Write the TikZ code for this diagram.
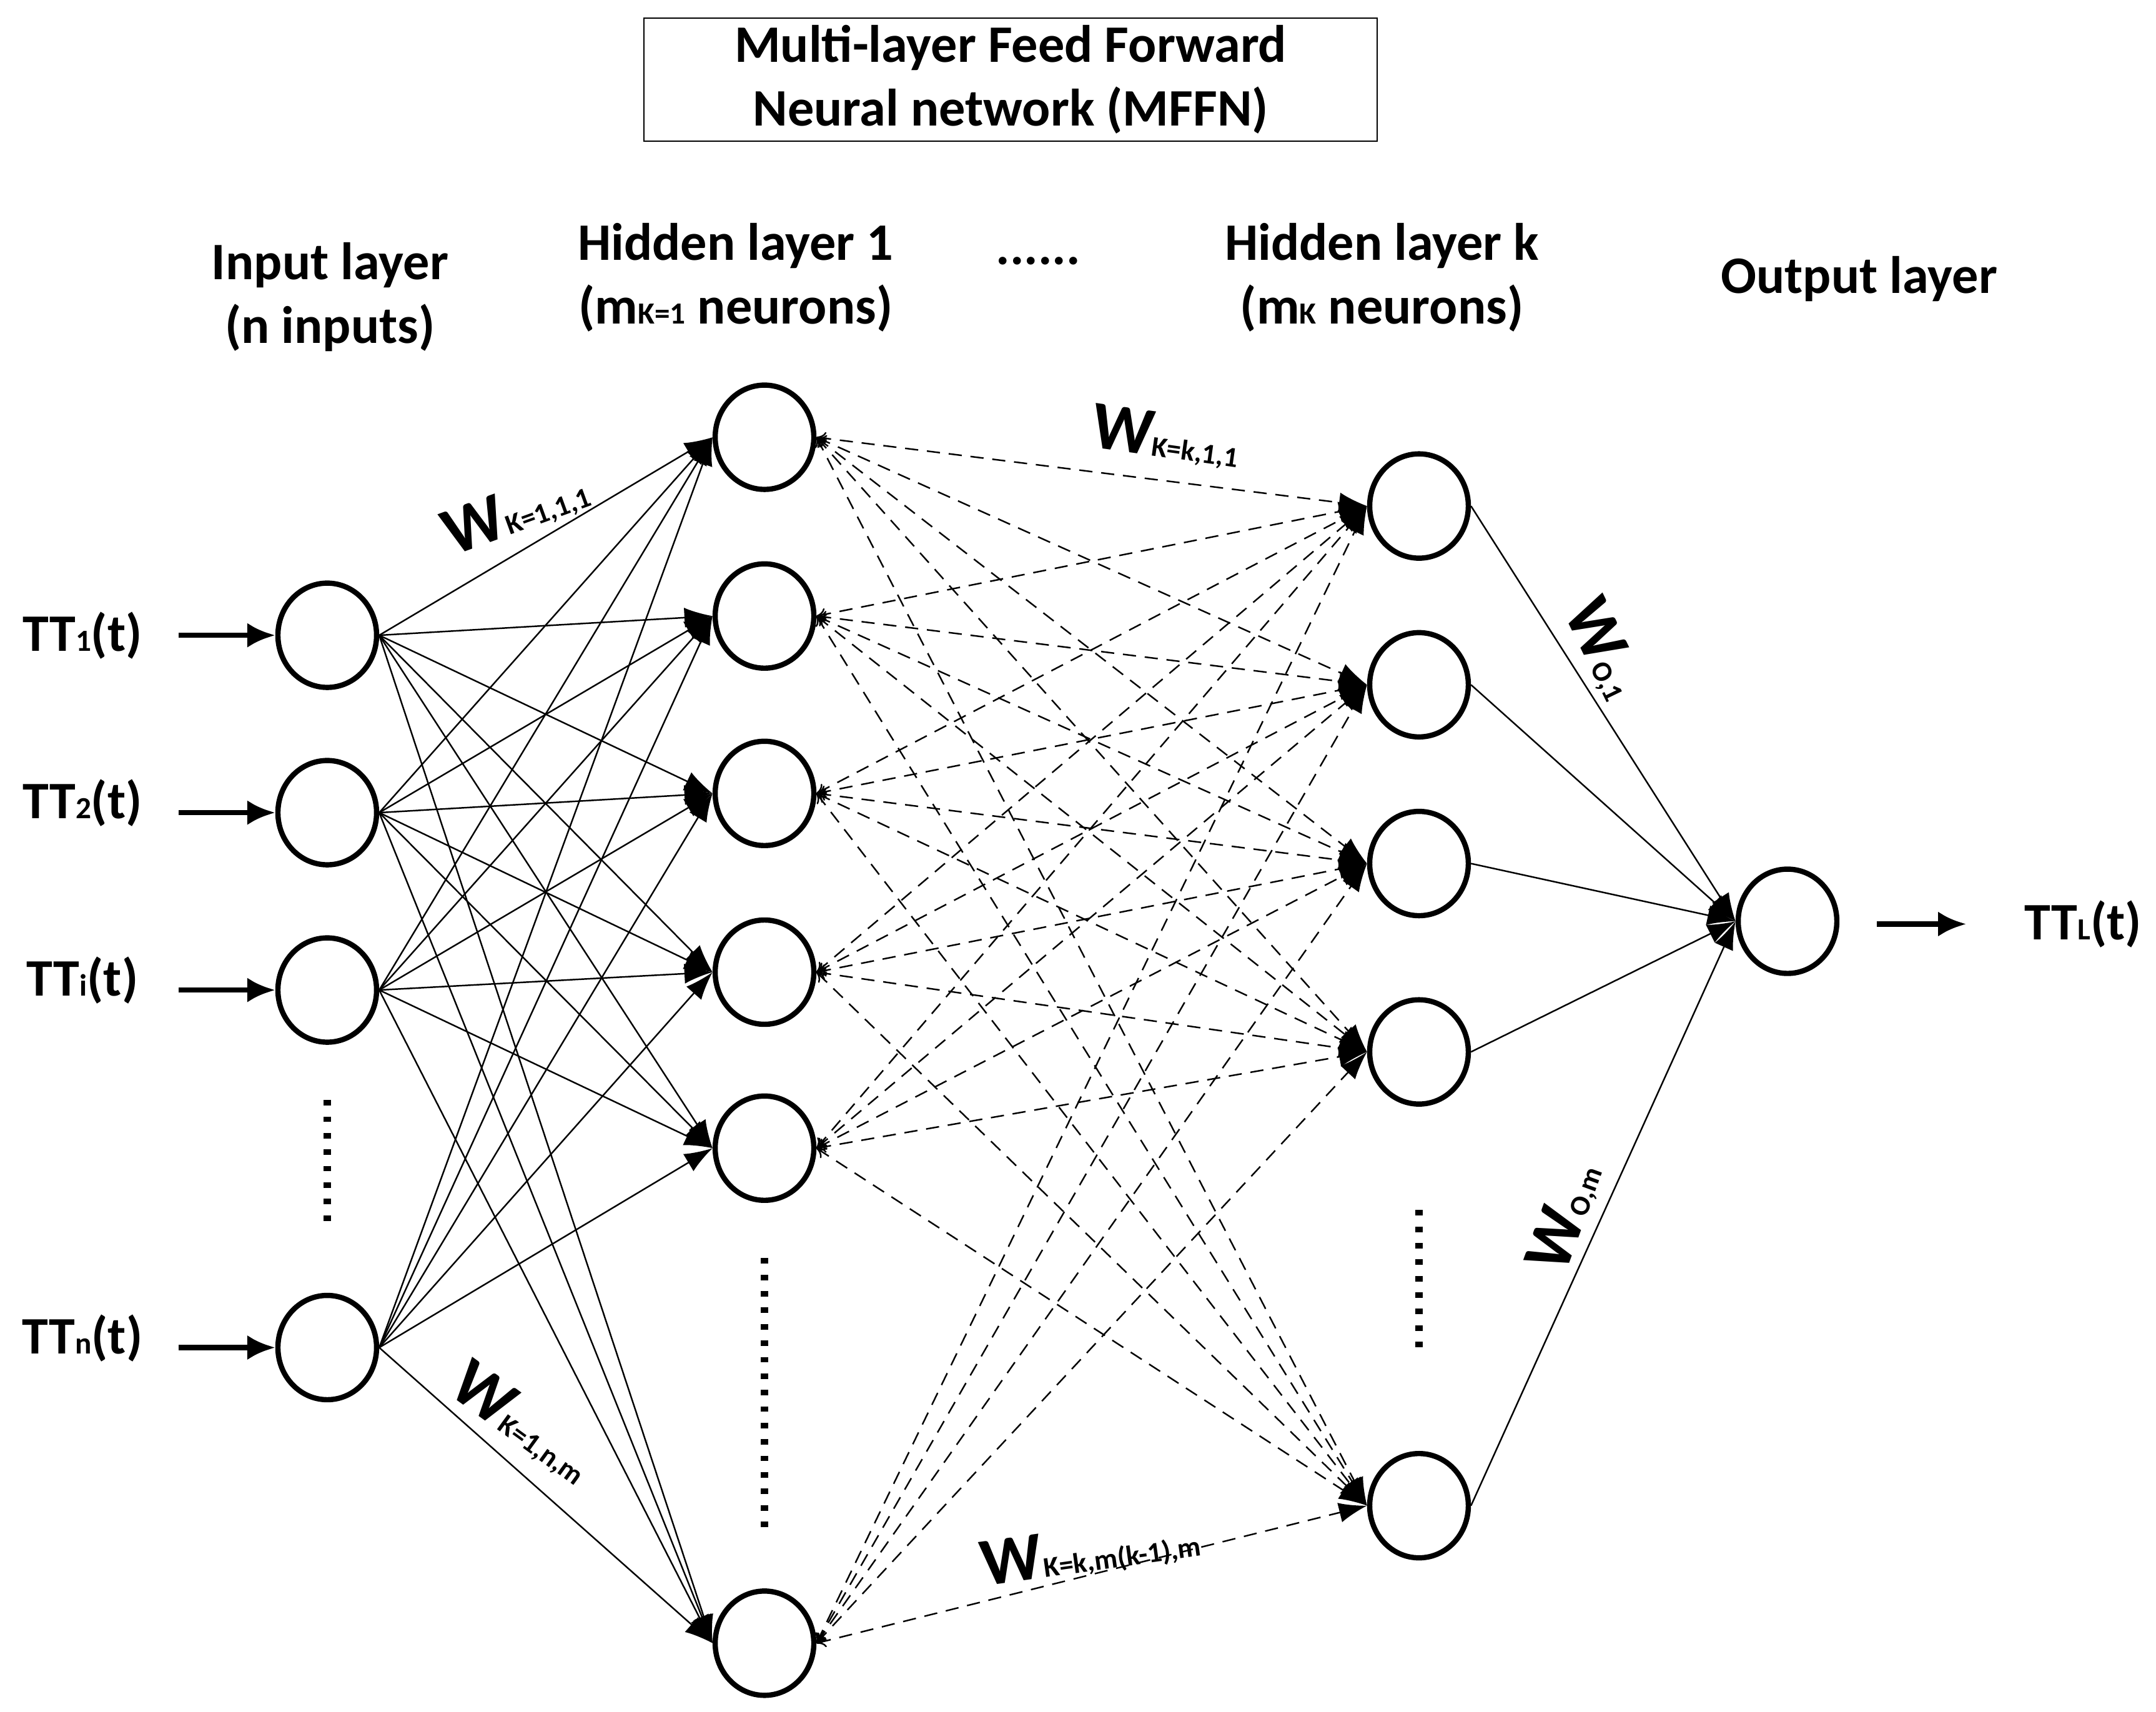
\documentclass[tikz,border=0pt]{standalone}
\usepackage{fontspec}
\setmainfont{Carlito}
\usetikzlibrary{arrows.meta,shapes.geometric}
\newcommand{\sbs}[1]{{\fontsize{14}{14}\selectfont #1}}
\newcommand{\wsub}[1]{{\fontsize{31}{31}\selectfont W}{\fontsize{13}{13}\selectfont #1}}
\begin{document}
\begin{tikzpicture}[x=0.022015cm,y=-0.022015cm,
  neuron/.style={ellipse,draw,line width=2.4pt,minimum width=1.58cm,minimum height=1.67cm,inner sep=0pt},
  lbl/.style={font=\bfseries\fontsize{24}{29}\selectfont,align=center},
  conn/.style={line width=0.7pt,-{Latex[length=0.45cm,width=0.32cm]}},
  dconn/.style={line width=0.7pt,dash pattern=on 6pt off 4pt,{To[length=0.15cm,width=0.2cm,open]}-{Latex[length=0.45cm,width=0.32cm]}},
  inarr/.style={line width=2.4pt,-{Latex[length=0.45cm,width=0.4cm]}},
  dots/.style={line width=3.5pt,dash pattern=on 2.5pt off 5pt,line cap=butt}]
\useasboundingbox (0,0) rectangle (1568,1245);
\node[draw,line width=0.6pt,minimum width=533*0.022015cm,minimum height=87*0.022015cm,lbl] (title) at (735,58) {Multi-layer Feed Forward\\Neural network (MFFN)};
\node[lbl] (h0) at (240,216) {Input layer\\(n inputs)};
\node[lbl] (h1) at (535,202) {Hidden layer 1\\(m\sbs{K=1} neurons)};
\node[lbl] (hd) at (755,190) {......};
\node[lbl] (h2) at (1005,202) {Hidden layer k\\(m\sbs{K} neurons)};
\node[lbl] (h3) at (1352,203) {Output layer};
% neurons
\foreach \i/\y in {1/462,2/591,3/720,4/980} \node[neuron] (i\i) at (238,\y) {};
\foreach \i/\y in {1/318,2/448,3/577,4/707,5/835,6/1195} \node[neuron] (a\i) at (556,\y) {};
\foreach \i/\y in {1/368,2/498,3/628,4/765,5/1095} \node[neuron] (b\i) at (1032,\y) {};
\node[neuron] (o) at (1300,670) {};
% input labels and arrows
\foreach \i/\y/\s in {1/462/1,2/584/2,3/713/i,4/973/n}{
  \node[lbl] (t\i) at (60,\y) {TT\sbs{\s}(t)};
}
\foreach \i/\y in {1/462,2/591,3/720,4/980}{
  \coordinate (c\i) at (130,\y);
  \draw[inarr] (c\i) -- (i\i.west);
}
\coordinate (os) at (1365,672);
\coordinate (oe) at (1430,672);
\draw[inarr] (os) -- (oe);
\node[lbl] (tl) at (1515,672) {TT\sbs{L}(t)};
% connections
\foreach \i in {1,...,4} \foreach \j in {1,...,6} \draw[conn] (i\i.east) -- (a\j.west);
\foreach \j in {1,...,6} \foreach \k in {1,...,5} \draw[dconn] (a\j.east) -- (b\k.west);
\foreach \k in {1,...,5} \draw[conn] (b\k.east) -- (o.west);
% dots
\coordinate (d1a) at (238,800); \coordinate (d1b) at (238,888);
\draw[dots] (d1a) -- (d1b);
\coordinate (d2a) at (556,915); \coordinate (d2b) at (556,1112);
\draw[dots] (d2a) -- (d2b);
\coordinate (d3a) at (1032,880); \coordinate (d3b) at (1032,982);
\draw[dots] (d3a) -- (d3b);
% weight labels
\node[font=\bfseries,rotate=20] (w1) at (375,372) {\wsub{K=1,1,1}};
\node[font=\bfseries,rotate=-8] (w2) at (848,318) {\wsub{K=k,1,1}};
\node[font=\bfseries,rotate=-36] (w3) at (380,1035) {\wsub{K=1,n,m}};
\node[font=\bfseries,rotate=8] (w4) at (793,1128) {\wsub{K=k,m(k-1),m}};
\node[font=\bfseries,rotate=-64] (w5) at (1166,472) {\wsub{O,1}};
\node[font=\bfseries,rotate=70] (w6) at (1138,885) {\wsub{O,m}};
\end{tikzpicture}
\end{document}
